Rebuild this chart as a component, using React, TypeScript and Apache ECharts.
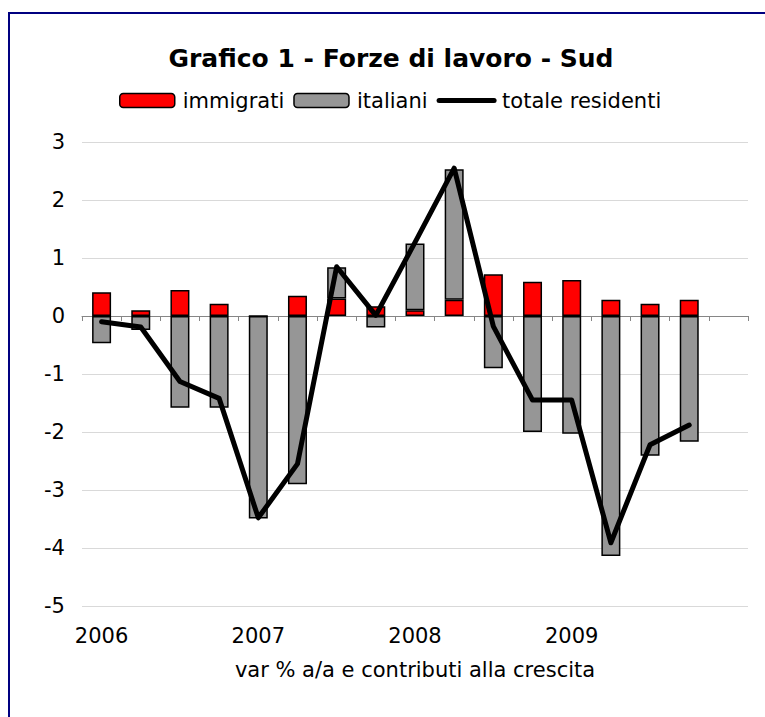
import React, { useEffect, useRef } from "react";
import * as echarts from "echarts";

const categories = [
  "2006", "", "", "",
  "2007", "", "", "",
  "2008", "", "", "",
  "2009", "", "", "",
  "",
];
const immigrati = [0.41, 0.10, 0.45, 0.21, 0.0, 0.35, 0.30, 0.17, 0.10, 0.28, 0.72, 0.59, 0.62, 0.28, 0.21, 0.28, null];
const italiani = [-0.47, -0.24, -1.58, -1.58, -3.49, -2.90, 0.54, -0.20, 1.15, 2.25, -0.90, -2.00, -2.03, -4.14, -2.41, -2.17, null];
const totaleResidenti = [-0.10, -0.19, -1.13, -1.42, -3.48, -2.55, 0.85, 0.01, 1.27, 2.55, -0.18, -1.45, -1.45, -3.91, -2.22, -1.88, null];
const yTicks = { min: -5, max: 3, interval: 1 };

const FONT = "'DejaVu Sans', Verdana, sans-serif";

export default function App() {
  const ref = useRef<HTMLDivElement>(null);
  useEffect(() => {
    if (!ref.current) return;
    const chart = echarts.init(ref.current, null, { renderer: "svg" });
    chart.setOption({
      animation: false,
      backgroundColor: "#ffffff",
      textStyle: { fontFamily: FONT },
      title: {
        text: "Grafico 1 - Forze di lavoro - Sud",
        left: 391,
        textAlign: "center",
        top: 46,
        padding: 0,
        textStyle: { fontFamily: FONT, fontSize: 25, fontWeight: "bold", color: "#000" },
      },
      legend: {
        left: 119,
        top: 90,
        padding: 0,
        itemWidth: 55,
        itemHeight: 14,
        itemGap: 9,
        textStyle: { fontFamily: FONT, fontSize: 21, color: "#000", padding: [0, 0, 0, 3] },
        data: [
          { name: "immigrati", itemStyle: { borderColor: "#000", borderWidth: 1.5 } },
          { name: "italiani", itemStyle: { borderColor: "#000", borderWidth: 1.5 } },
          {
            name: "totale residenti",
            lineStyle: { width: 5, color: "#000" },
            itemStyle: { color: "rgba(0,0,0,0)", borderWidth: 0, opacity: 0 },
          },
        ],
      },
      graphic: [
        {
          type: "rect",
          shape: { x: 9, y: 13, width: 800, height: 800 },
          style: { fill: "none", stroke: "#000080", lineWidth: 2 },
          silent: true,
          z: 100,
        },
      ],
      grid: { left: 82, right: 17, top: 142, bottom: 111 },
      xAxis: [
        {
          type: "category",
          data: categories,
          boundaryGap: true,
          axisLine: { onZero: true, lineStyle: { color: "#868686", width: 1 } },
          axisTick: { show: true, interval: 0, length: 5, lineStyle: { color: "#868686" } },
          axisLabel: { show: false },
          splitLine: { show: false },
        },
        {
          type: "category",
          data: categories,
          position: "bottom",
          boundaryGap: true,
          axisLine: { show: false, onZero: false },
          axisTick: { show: false },
          axisLabel: {
            show: true,
            interval: 0,
            margin: 19,
            fontFamily: FONT,
            fontSize: 21,
            color: "#000",
          },
          name: "var % a/a e contributi alla crescita",
          nameLocation: "middle",
          nameGap: 53,
          nameTextStyle: { fontFamily: FONT, fontSize: 21, color: "#000" },
        },
      ],
      yAxis: {
        type: "value",
        min: yTicks.min,
        max: yTicks.max,
        interval: yTicks.interval,
        axisLine: { show: false },
        axisTick: { show: false },
        axisLabel: { margin: 17, fontFamily: FONT, fontSize: 21, color: "#000" },
        splitLine: { show: true, lineStyle: { color: "#d9d9d9", width: 1 } },
      },
      series: [
        {
          name: "immigrati",
          type: "bar",
          stack: "tot",
          xAxisIndex: 0,
          barWidth: 19,
          data: immigrati,
          itemStyle: { color: "#ff0000", borderColor: "#000", borderWidth: 1.5 },
        },
        {
          name: "italiani",
          type: "bar",
          stack: "tot",
          xAxisIndex: 0,
          barWidth: 19,
          data: italiani,
          itemStyle: { color: "#969696", borderColor: "#000", borderWidth: 1.5 },
        },
        {
          name: "totale residenti",
          type: "line",
          xAxisIndex: 0,
          data: totaleResidenti,
          symbol: "none",
          lineStyle: { color: "#000", width: 5, cap: "round", join: "round" },
          itemStyle: { color: "#000" },
          z: 5,
        },
      ],
    });
    return () => chart.dispose();
  }, []);
  return (
    <div
      ref={ref}
      style={{ position: "absolute", left: 0, top: 0, width: 765, height: 717 }}
    />
  );
}
